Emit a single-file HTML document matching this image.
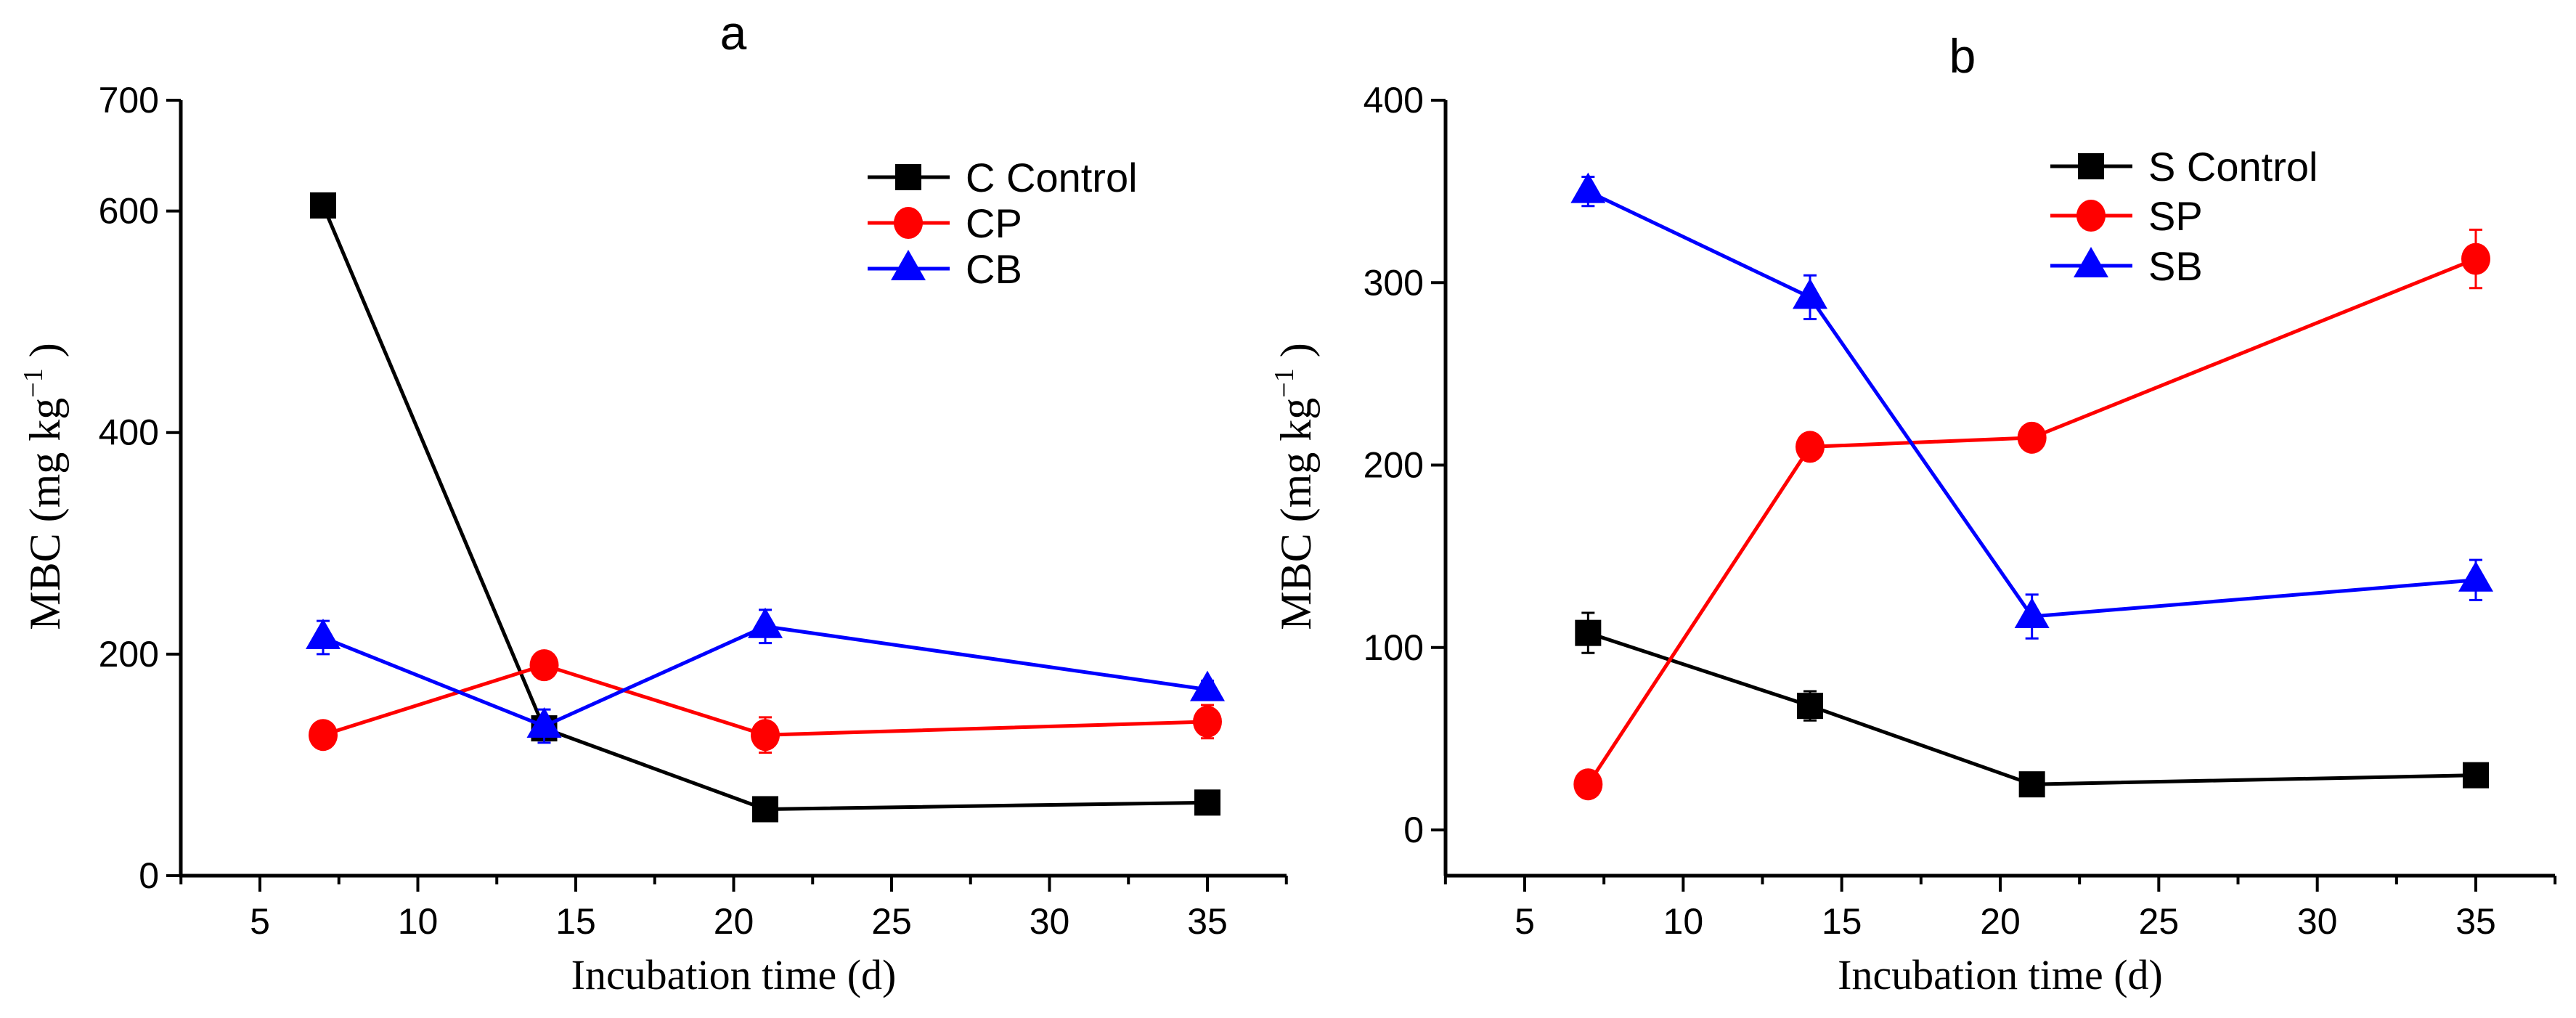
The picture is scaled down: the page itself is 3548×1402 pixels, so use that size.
<!DOCTYPE html>
<html><head><meta charset="utf-8"><style>
html,body{margin:0;padding:0;background:#fff;}
svg{display:block;}
text{font-family:"Liberation Sans",Arial,sans-serif;}
.narrow{font-family:"Liberation Sans Narrow","Liberation Sans",Arial,sans-serif;}
.serif{font-family:"Liberation Serif","Times New Roman",serif;}
</style></head><body>
<svg id="chart" width="3548" height="1402" viewBox="0 0 3548 1402" xmlns="http://www.w3.org/2000/svg"></svg>
<script>
const days = [7, 14, 21, 35];
const xTicks = [5, 10, 15, 20, 25, 30, 35];
// panel a
const aControl = [605, 133, 60, 66];
const aControlErr = [8, 10, 5, 5];
const aCP = [127, 190, 127, 139];
const aCPErr = [5, 6, 16, 15];
const aCB = [215, 135, 225, 168];
const aCBErr = [15, 15, 15, 8];
const aYTicks = [0, 200, 400, 600, 700];
// panel b
const bControl = [108, 68, 25, 30];
const bControlErr = [11, 8, 3, 3];
const bSP = [25, 210, 215, 313];
const bSPErr = [3, 4, 4, 16];
const bSB = [350, 292, 117, 137];
const bSBErr = [8, 12, 12, 11];
const bYTicks = [0, 100, 200, 300, 400];

const NS = "http://www.w3.org/2000/svg";
const svg = document.getElementById('chart');
function mk(tag, attrs, parent, name) {
  const e = document.createElementNS(NS, tag);
  for (const k in attrs) e.setAttribute(k, attrs[k]);
  
  
  (parent || svg).appendChild(e);
  return e;
}
function marker(g, shape, cx, cy, color, name) {
  let m;
  if (shape === 'square') m = mk('rect', {x: cx - 18, y: cy - 18, width: 36, height: 36, fill: color}, g, name);
  else if (shape === 'circle') m = mk('ellipse', {cx: cx, cy: cy, rx: 20, ry: 22, fill: color}, g, name);
  else m = mk('polygon', {points: `${cx},${cy - 26} ${cx - 24},${cy + 16} ${cx + 24},${cy + 16}`, fill: color}, g, name);
  return m;
}
function panel(cfg) {
  const g = mk('g', {}, svg, cfg.id);
  const xs = v => cfg.x5 + (v - 5) * (cfg.x35 - cfg.x5) / 30;
  const ys = v => cfg.y0 + (v - 0) * (cfg.yTop - cfg.y0) / cfg.yMax;
  mk('line', {x1: cfg.left, y1: cfg.top, x2: cfg.left, y2: cfg.bottom, stroke: '#000', 'stroke-width': 5}, g, 'y-axis-line');
  mk('line', {x1: cfg.left - 2, y1: cfg.bottom, x2: cfg.right, y2: cfg.bottom, stroke: '#000', 'stroke-width': 5}, g, 'x-axis-line');
  for (let v = 2.5; v <= 37.51; v += 2.5) {
    const major = Math.abs(v % 5) < 0.01;
    mk('line', {x1: xs(v), y1: cfg.bottom, x2: xs(v), y2: cfg.bottom + (major ? 22 : 12), stroke: '#000', 'stroke-width': 4}, g, major ? 'x-major-tick' : 'x-minor-tick');
  }
  xTicks.forEach(v => {
    const t = mk('text', {x: xs(v), y: cfg.bottom + 80, 'font-size': 50, 'text-anchor': 'middle', class: 'narrow'}, g, 'x-tick-label');
    t.textContent = v;
  });
  cfg.yTicks.forEach(v => {
    mk('line', {x1: cfg.left - 20, y1: ys(v), x2: cfg.left, y2: ys(v), stroke: '#000', 'stroke-width': 4}, g, 'y-major-tick');
    const t = mk('text', {x: cfg.left - 30, y: ys(v) + 17, 'font-size': 50, 'text-anchor': 'end', class: 'narrow'}, g, 'y-tick-label');
    t.textContent = v;
  });
  const tt = mk('text', {x: cfg.titleX, y: cfg.titleY, 'font-size': 66, 'text-anchor': 'middle'}, g, 'panel-title');
  tt.textContent = cfg.title;
  const xt = mk('text', {x: (cfg.left + cfg.right) / 2, y: 1362, 'font-size': 58, 'text-anchor': 'middle', class: 'serif'}, g, 'x-axis-title');
  xt.textContent = 'Incubation time (d)';
  const yt = mk('text', {x: 0, y: 0, 'font-size': 60, 'text-anchor': 'middle', class: 'serif', transform: `translate(${cfg.yTitleX},${cfg.yTitleY}) rotate(-90)`}, g, 'y-axis-title');
  yt.innerHTML = 'MBC (mg kg<tspan dy="-24" font-size="38">−1</tspan><tspan dy="24"> )</tspan>';
  cfg.series.forEach((s, si) => {
    const sg = mk('g', {}, g, 'series-' + s.name.toLowerCase().replace(/\s+/g, '-'));
    const pts = days.map((d, i) => xs(d) + ',' + ys(s.values[i])).join(' ');
    mk('polyline', {points: pts, fill: 'none', stroke: s.color, 'stroke-width': 5}, sg, 'series-line');
    days.forEach((d, i) => {
      const x = xs(d), y1 = ys(s.values[i] + s.err[i]), y2 = ys(s.values[i] - s.err[i]);
      mk('line', {x1: x, y1: y1, x2: x, y2: y2, stroke: s.color, 'stroke-width': 3}, sg, 'error-bar');
      mk('line', {x1: x - 9, y1: y1, x2: x + 9, y2: y1, stroke: s.color, 'stroke-width': 3}, sg, 'error-cap');
      mk('line', {x1: x - 9, y1: y2, x2: x + 9, y2: y2, stroke: s.color, 'stroke-width': 3}, sg, 'error-cap');
      marker(sg, s.shape, x, ys(s.values[i]), s.color, 'data-point');
    });
    const ly = cfg.legendY[si];
    const lg = mk('g', {}, g, 'legend-entry');
    mk('line', {x1: cfg.legendX, y1: ly, x2: cfg.legendX + 113, y2: ly, stroke: s.color, 'stroke-width': 5}, lg, 'legend-line');
    marker(lg, s.shape, cfg.legendX + 56, ly, s.color, 'legend-marker');
    const lt = mk('text', {x: cfg.legendX + 135, y: ly + 20, 'font-size': 56, class: 'narrow'}, lg, 'legend-label');
    lt.textContent = s.name;
  });
}
panel({id: 'panel-a', title: 'a', titleX: 1010, titleY: 68,
  left: 249, right: 1772, top: 138, bottom: 1206, x5: 358, x35: 1663,
  y0: 1206, yTop: 138, yMax: 700, yTicks: aYTicks, yTitleX: 82, yTitleY: 670,
  legendX: 1195, legendY: [244, 307, 370],
  series: [
    {name: 'C Control', values: aControl, err: aControlErr, color: '#000', shape: 'square'},
    {name: 'CP', values: aCP, err: aCPErr, color: '#ff0000', shape: 'circle'},
    {name: 'CB', values: aCB, err: aCBErr, color: '#0000ff', shape: 'triangle'}
  ]});
panel({id: 'panel-b', title: 'b', titleX: 2703, titleY: 100,
  left: 1991, right: 3519, top: 138, bottom: 1206, x5: 2100, x35: 3410,
  y0: 1143, yTop: 138, yMax: 400, yTicks: bYTicks, yTitleX: 1805, yTitleY: 670,
  legendX: 2824, legendY: [229, 297, 366],
  series: [
    {name: 'S Control', values: bControl, err: bControlErr, color: '#000', shape: 'square'},
    {name: 'SP', values: bSP, err: bSPErr, color: '#ff0000', shape: 'circle'},
    {name: 'SB', values: bSB, err: bSBErr, color: '#0000ff', shape: 'triangle'}
  ]});
</script>
</body></html>
